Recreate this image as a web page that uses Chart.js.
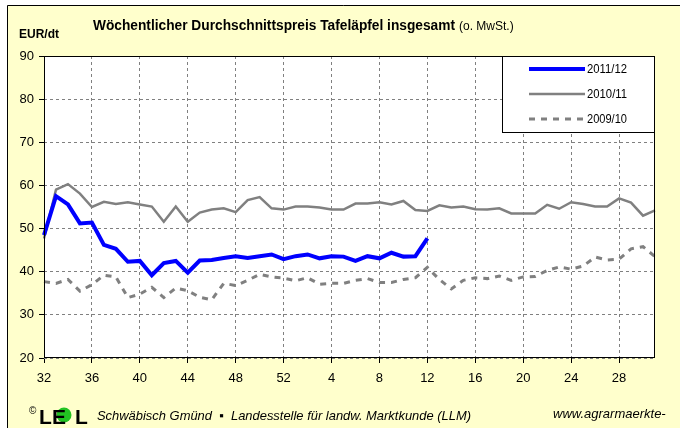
<!DOCTYPE html>
<html>
<head>
<meta charset="utf-8">
<script src="https://cdn.jsdelivr.net/npm/chart.js@4.4.1/dist/chart.umd.min.js"></script>
<style>
  body { margin: 0; background: #fff; }
  #wrap { position: relative; width: 680px; height: 428px; }
</style>
</head>
<body>
<div id="wrap"><canvas id="priceChart"></canvas></div>
<script>
// Season runs from week 32 to week 31 of the next year
const weekLabels = ['32', '33', '34', '35', '36', '37', '38', '39', '40', '41', '42', '43', '44', '45', '46', '47', '48',
  '49', '50', '51', '52', '1', '2', '3', '4', '5', '6', '7', '8', '9', '10', '11', '12', '13', '14', '15', '16',
  '17', '18', '19', '20', '21', '22', '23', '24', '25', '26', '27', '28', '29', '30', '31'];

// EUR/dt
const season2011 = [48.5, 57.5, 55.6, 51.2, 51.4, 46.2, 45.3, 42.3, 42.5, 39.2, 42.0, 42.5, 39.8, 42.6, 42.7, 43.2,
  43.6, 43.2, 43.6, 44.0, 42.9, 43.6, 44.0, 43.1, 43.6, 43.5, 42.5, 43.6, 43.1, 44.4, 43.5, 43.6, 47.7];

const season2010 = [47.7, 59.0, 60.3, 58.1, 55.0, 56.2, 55.7, 56.1, 55.6, 55.1, 51.6, 55.1, 51.6, 53.7, 54.4, 54.7,
  53.8, 56.6, 57.3, 54.7, 54.4, 55.1, 55.1, 54.9, 54.4, 54.4, 55.8, 55.8, 56.1, 55.6, 56.4, 54.3, 54.1, 55.4, 54.9,
  55.1, 54.5, 54.4, 54.7, 53.5, 53.5, 53.5, 55.5, 54.6, 56.1, 55.7, 55.1, 55.1, 57.0, 56.0, 53.0, 54.2];

const season2009 = [37.7, 37.3, 38.2, 35.5, 37.0, 39.2, 38.8, 34.0, 34.8, 36.4, 34.0, 36.2, 35.6, 34.1, 33.5, 37.3,
  36.8, 38.0, 39.4, 38.8, 38.5, 37.9, 38.6, 37.1, 37.3, 37.3, 38.0, 38.4, 37.5, 37.5, 38.2, 38.6, 41.0, 38.2, 36.0,
  38.0, 38.6, 38.4, 39.0, 38.0, 38.8, 38.9, 40.3, 41.1, 40.6, 41.3, 43.4, 42.7, 42.9, 45.3, 45.8, 43.5];

const seasonNames = ['2011/12', '2010/11', '2009/10'];

const yMin = 20;
const yMax = 90;
const yStep = 10;

const fontFamily = '"Liberation Sans", Arial, sans-serif';

// Yellow frame and white plot area
const backgroundPlugin = {
  id: 'background',
  beforeDraw(chart) {
    const ctx = chart.ctx;
    const a = chart.chartArea;
    ctx.save();
    ctx.fillStyle = '#ffffff';
    ctx.fillRect(0, 0, chart.width, chart.height);
    ctx.fillStyle = '#ffffcc';
    ctx.fillRect(7, 5, chart.width - 7, chart.height - 5);
    ctx.strokeStyle = '#000';
    ctx.lineWidth = 1;
    ctx.beginPath();
    ctx.moveTo(7.5, chart.height);
    ctx.lineTo(7.5, 5.5);
    ctx.lineTo(chart.width, 5.5);
    ctx.stroke();
    ctx.fillStyle = '#ffffff';
    ctx.fillRect(a.left, a.top, a.right - a.left, a.bottom - a.top);
    ctx.restore();
  }
};

// Plot border, legend box, title and footer
const overlayPlugin = {
  id: 'overlay',
  afterDraw(chart) {
    const ctx = chart.ctx;
    const a = chart.chartArea;
    ctx.save();

    ctx.strokeStyle = '#000';
    ctx.lineWidth = 1;
    ctx.strokeRect(Math.round(a.left) + 0.5, Math.round(a.top) + 0.5,
      Math.round(a.right - a.left) - 1, Math.round(a.bottom - a.top) - 1);

    // legend inside the top right corner
    const lx = 502, ly = Math.round(a.top), lw = Math.round(a.right) - 502, lh = 77;
    ctx.fillStyle = '#fff';
    ctx.fillRect(lx, ly, lw, lh);
    ctx.strokeRect(lx + 0.5, ly + 0.5, lw - 1, lh - 1);
    chart.data.datasets.forEach((ds, i) => {
      const y = ly + 13 + i * 25;
      ctx.beginPath();
      ctx.strokeStyle = ds.borderColor;
      ctx.lineWidth = ds.borderWidth;
      ctx.setLineDash(ds.borderDash || []);
      ctx.moveTo(529, y);
      ctx.lineTo(585, y);
      ctx.stroke();
      ctx.setLineDash([]);
      ctx.fillStyle = '#000';
      ctx.font = '12px ' + fontFamily;
      ctx.textBaseline = 'middle';
      ctx.textAlign = 'left';
      ctx.fillText(ds.label, 587, y + 1, 40);
    });

    // titles
    ctx.fillStyle = '#000';
    ctx.textBaseline = 'alphabetic';
    ctx.font = 'bold 14px ' + fontFamily;
    ctx.fillText('Wöchentlicher Durchschnittspreis Tafeläpfel insgesamt', 93, 30, 362);
    ctx.font = '12px ' + fontFamily;
    ctx.fillText('(o. MwSt.)', 459, 30, 63);
    ctx.font = 'bold 12px ' + fontFamily;
    ctx.fillText('EUR/dt', 19, 38, 44);

    // footer
    ctx.font = '10px ' + fontFamily;
    ctx.fillText('©', 29, 414);
    ctx.font = 'bold 21px ' + fontFamily;
    ctx.fillText('L', 39, 424);
    ctx.beginPath();
    ctx.fillStyle = '#22c322';
    ctx.arc(64, 415, 7.5, 0, Math.PI * 2);
    ctx.fill();
    ctx.fillStyle = '#000';
    ctx.fillText('E', 52, 424);
    ctx.fillText('L', 75, 424);
    ctx.font = 'italic 13px ' + fontFamily;
    ctx.fillText('Schwäbisch Gmünd  ▪  Landesstelle für landw. Marktkunde (LLM)', 97, 420, 374);
    ctx.fillText('www.agrarmaerkte-', 553, 418, 123);
    ctx.restore();
  }
};

new Chart(document.getElementById('priceChart'), {
  type: 'line',
  data: {
    labels: weekLabels,
    datasets: [{
      label: seasonNames[0],
      data: season2011,
      borderColor: '#0000ff',
      borderWidth: 4,
      pointRadius: 0,
      tension: 0
    }, {
      label: seasonNames[1],
      data: season2010,
      borderColor: '#808080',
      borderWidth: 2.5,
      pointRadius: 0,
      tension: 0
    }, {
      label: seasonNames[2],
      data: season2009,
      borderColor: '#808080',
      borderWidth: 3,
      borderDash: [6, 6],
      pointRadius: 0,
      tension: 0
    }]
  },
  options: {
    responsive: true,
    maintainAspectRatio: false,
    animation: false,
    layout: {
      padding: { top: 56, right: 25, left: 0, bottom: 0 }
    },
    plugins: {
      legend: { display: false },
      tooltip: { enabled: false }
    },
    scales: {
      x: {
        offset: false,
        afterFit: function(scale) { scale.height = 70; },
        grid: {
          color: ctx => ctx.index % 4 === 0 ? '#808080' : 'transparent',
          tickColor: ctx => ctx.index % 4 === 0 ? '#000' : 'transparent',
          tickLength: 5,
          lineWidth: 1
        },
        border: { display: false, dash: [3, 3] },
        ticks: {
          autoSkip: false,
          maxRotation: 0,
          padding: 8,
          color: '#000',
          font: { family: fontFamily, size: 13 },
          callback: function(value, index) {
            return index % 4 === 0 ? weekLabels[index] : '';
          }
        }
      },
      y: {
        min: yMin,
        max: yMax,
        afterFit: function(scale) { scale.width = 44; },
        grid: {
          color: '#808080',
          tickColor: '#000',
          tickLength: 5,
          lineWidth: 1
        },
        border: { display: false, dash: [3, 3] },
        ticks: {
          stepSize: yStep,
          padding: 5,
          color: '#000',
          font: { family: fontFamily, size: 13 }
        }
      }
    }
  },
  plugins: [backgroundPlugin, overlayPlugin]
});
</script>
</body>
</html>
